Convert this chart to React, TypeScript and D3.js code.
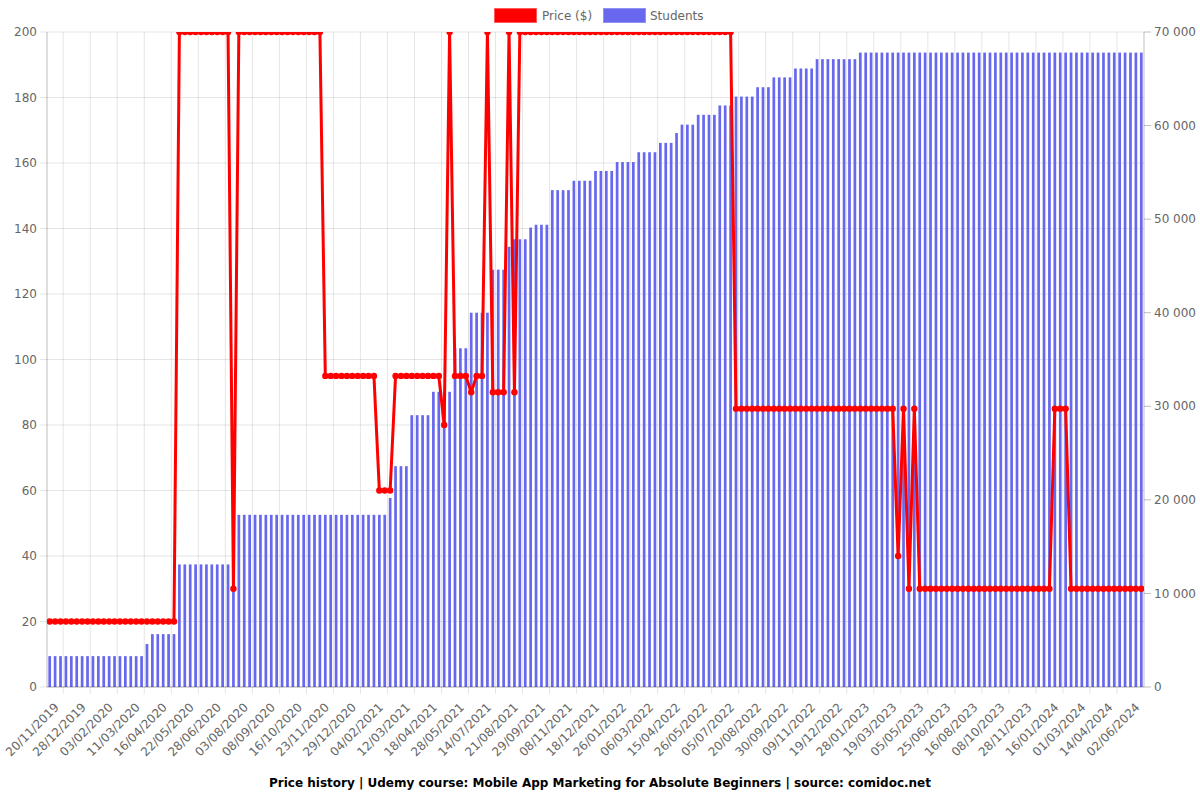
import React from "react";
import * as d3 from "d3";

// Price ($) per data point (left axis)
const price: number[] = [
  20, 20, 20, 20, 20, 20, 20, 20, 20, 20, 20, 20, 20, 20, 20, 20, 20, 20, 20, 20, 20, 20, 20, 20,
  200, 200, 200, 200, 200, 200, 200, 200, 200, 200,
  30,
  200, 200, 200, 200, 200, 200, 200, 200, 200, 200, 200, 200, 200, 200, 200, 200,
  95, 95, 95, 95, 95, 95, 95, 95, 95, 95,
  60, 60, 60,
  95, 95, 95, 95, 95, 95, 95, 95, 95,
  80, 200, 95, 95, 95, 90, 95, 95, 200, 90, 90, 90, 200, 90,
  200, 200, 200, 200, 200, 200, 200, 200, 200, 200, 200, 200, 200, 200, 200, 200, 200, 200, 200, 200,
  200, 200, 200, 200, 200, 200, 200, 200, 200, 200, 200, 200, 200, 200, 200, 200, 200, 200, 200, 200,
  85, 85, 85, 85, 85, 85, 85, 85, 85, 85, 85, 85, 85, 85, 85,
  85, 85, 85, 85, 85, 85, 85, 85, 85, 85, 85, 85, 85, 85, 85,
  40, 85, 30, 85,
  30, 30, 30, 30, 30, 30, 30, 30, 30, 30, 30, 30, 30, 30, 30, 30, 30, 30, 30, 30, 30, 30, 30, 30, 30,
  85, 85, 85,
  30, 30, 30, 30, 30, 30, 30, 30, 30, 30, 30, 30, 30, 30,
];

// Students per data point (right axis)
const students: number[] = [
  3300, 3300, 3300, 3300, 3300, 3300, 3300, 3300, 3300, 3300, 3300, 3300, 3300, 3300, 3300, 3300, 3300, 3300,
  4600,
  5650, 5650, 5650, 5650, 5650,
  13100, 13100, 13100, 13100, 13100, 13100, 13100, 13100, 13100, 13100,
  18400, 18400, 18400, 18400, 18400, 18400, 18400, 18400, 18400, 18400,
  18400, 18400, 18400, 18400, 18400, 18400, 18400, 18400, 18400, 18400,
  18400, 18400, 18400, 18400, 18400, 18400, 18400, 18400, 18400,
  20200,
  23600, 23600, 23600,
  29050, 29050, 29050, 29050,
  31550, 31550, 31550, 31550,
  36200, 36200, 36200,
  40000, 40000, 40000, 40000,
  44600, 44600, 44600,
  47050,
  47850, 47850, 47850,
  49100, 49400, 49400, 49400,
  53100, 53100, 53100, 53100,
  54100, 54100, 54100, 54100,
  55150, 55150, 55150, 55150,
  56100, 56100, 56100, 56100,
  57150, 57150, 57150, 57150,
  58150, 58150, 58150,
  59200,
  60100, 60100, 60100,
  61150, 61150, 61150, 61150,
  62150, 62150, 62150,
  63100, 63100, 63100, 63100,
  64100, 64100, 64100,
  65150, 65150, 65150, 65150,
  66100, 66100, 66100, 66100,
  67100, 67100, 67100, 67100, 67100, 67100, 67100, 67100,
  67800, 67800, 67800, 67800, 67800, 67800, 67800, 67800, 67800, 67800,
  67800, 67800, 67800, 67800, 67800, 67800, 67800, 67800, 67800, 67800,
  67800, 67800, 67800, 67800, 67800, 67800, 67800, 67800, 67800, 67800,
  67800, 67800, 67800, 67800, 67800, 67800, 67800, 67800, 67800, 67800,
  67800, 67800, 67800, 67800, 67800, 67800, 67800, 67800, 67800, 67800,
  67800, 67800, 67800,
];

// Visible x tick labels (every 5th data point)
const xTickLabels: string[] = [
  "20/11/2019", "28/12/2019", "03/02/2020", "11/03/2020", "16/04/2020", "22/05/2020",
  "28/06/2020", "03/08/2020", "08/09/2020", "16/10/2020", "23/11/2020", "29/12/2020",
  "04/02/2021", "12/03/2021", "18/04/2021", "28/05/2021", "14/07/2021", "21/08/2021",
  "29/09/2021", "08/11/2021", "18/12/2021", "26/01/2022", "06/03/2022", "15/04/2022",
  "26/05/2022", "05/07/2022", "20/08/2022", "30/09/2022", "09/11/2022", "19/12/2022",
  "28/01/2023", "19/03/2023", "05/05/2023", "25/06/2023", "16/08/2023", "08/10/2023",
  "28/11/2023", "16/01/2024", "01/03/2024", "14/04/2024", "02/06/2024",
];
const tickStep = 5;

const priceTicks: number[] = [0, 20, 40, 60, 80, 100, 120, 140, 160, 180, 200];
const studentTicks: number[] = [0, 10000, 20000, 30000, 40000, 50000, 60000, 70000];

const title =
  "Price history | Udemy course: Mobile App Marketing for Absolute Beginners | source: comidoc.net";

const FONT = "'DejaVu Sans', sans-serif";
const TEXT = "#666";

export default function App() {
  const left = 47, right = 1144, top = 32, bottom = 687;
  const idx = d3.range(price.length);
  const x = d3.scaleBand<number>().domain(idx).range([left, right]).padding(0);
  const bw = x.bandwidth();
  const cx = (i: number) => (x(i) as number) + bw / 2;
  const yL = d3.scaleLinear().domain([0, 200]).range([bottom, top]);
  const yR = d3.scaleLinear().domain([0, 70000]).range([bottom, top]);

  const line = d3
    .line<number>()
    .x((_, i) => cx(i))
    .y((d) => yL(d));

  const fmt = (v: number) => d3.format(",")(v).replace(/,/g, " ");

  // vertical grid lines sit halfway between shown ticks
  const vGrid: number[] = [];
  for (let k = 1; k <= xTickLabels.length; k++) {
    const gx = left + (k * tickStep + 0.5) * bw - (tickStep / 2) * bw;
    if (gx > left + 1 && gx < right - 1) vGrid.push(gx);
  }

  const barW = bw * 0.5;

  return (
    <svg
      width={1200}
      height={800}
      style={{ position: "absolute", left: 0, top: 0, background: "#fff" }}
      fontFamily={FONT}
    >
      <defs>
        <clipPath id="area">
          <rect x={left} y={top} width={right - left} height={bottom - top} />
        </clipPath>
      </defs>

      {/* horizontal grid */}
      {priceTicks.map((t) => (
        <line key={"hg" + t} x1={left - 7} x2={right} y1={yL(t)} y2={yL(t)} stroke="rgba(0,0,0,0.1)" />
      ))}
      {/* vertical grid */}
      {vGrid.map((g, i) => (
        <line key={"vg" + i} x1={g} x2={g} y1={top} y2={bottom + 7} stroke="rgba(0,0,0,0.1)" />
      ))}

      {/* bars */}
      <g>
        {students.map((v, i) => (
          <rect
            key={"b" + i}
            x={cx(i) - barW / 2}
            y={yR(v)}
            width={barW}
            height={bottom - yR(v)}
            fill="rgb(104,104,238)"
          />
        ))}
      </g>

      {/* axes lines */}
      <line x1={left} x2={left} y1={top} y2={bottom} stroke="rgba(0,0,0,0.25)" />
      <line x1={right} x2={right} y1={top} y2={bottom} stroke="rgba(0,0,0,0.25)" />
      <line x1={left} x2={right} y1={bottom} y2={bottom} stroke="rgba(0,0,0,0.25)" />

      {/* right ticks */}
      {studentTicks.map((t) => (
        <g key={"rt" + t}>
          <line x1={right} x2={right + 7} y1={yR(t)} y2={yR(t)} stroke="rgba(0,0,0,0.25)" />
          <text x={right + 7 + 3} y={yR(t)} dy="0.35em" fontSize={12} fill={TEXT}>
            {fmt(t)}
          </text>
        </g>
      ))}
      {/* left tick labels */}
      {priceTicks.map((t) => (
        <text key={"lt" + t} x={left - 10} y={yL(t)} dy="0.35em" fontSize={12} fill={TEXT} textAnchor="end">
          {t}
        </text>
      ))}

      {/* x tick labels */}
      {xTickLabels.map((lab, k) => {
        const px = cx(k * tickStep);
        return (
          <text
            key={"xl" + k}
            transform={`translate(${px + 7},${bottom + 18}) rotate(-45)`}
            textAnchor="end"
            dy="0.35em"
            fontSize={12}
            fill={TEXT}
          >
            {lab}
          </text>
        );
      })}

      {/* price line */}
      <g clipPath="url(#area)">
        <path d={line(price) || ""} fill="none" stroke="#ff0000" strokeWidth={3} strokeLinejoin="round" />
        {price.map((v, i) => (
          <circle key={"p" + i} cx={cx(i)} cy={yL(v)} r={3.2} fill="#ff0000" />
        ))}
      </g>

      {/* legend */}
      <rect x={494.5} y={8.5} width={42} height={14} fill="#ff0000" stroke="rgba(255,80,80,0.8)" />
      <text x={542} y={16} dy="0.35em" fontSize={12} fill={TEXT}>
        Price ($)
      </text>
      <rect x={603.5} y={8.5} width={42} height={14} fill="rgb(104,104,238)" stroke="rgba(140,140,245,0.9)" />
      <text x={650} y={16} dy="0.35em" fontSize={12} fill={TEXT}>
        Students
      </text>

      {/* title */}
      <text x={600} y={783} dy="0.35em" textAnchor="middle" fontSize={12} fontWeight="bold" fill="#000">
        {title}
      </text>
    </svg>
  );
}
